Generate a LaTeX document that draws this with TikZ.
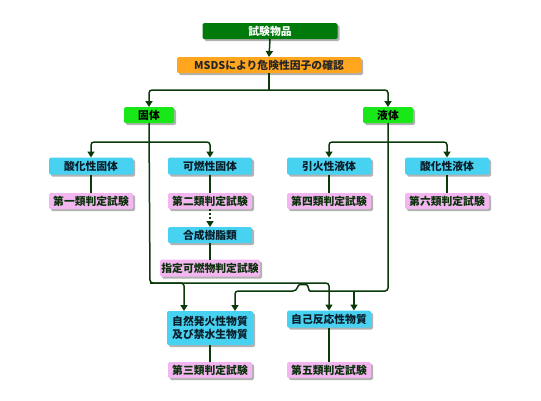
\documentclass[tikz,border=0pt]{standalone}
\usepackage{fontspec}
\newfontfamily\jp{Noto Sans CJK JP}
\usetikzlibrary{arrows.meta,shadows}
\definecolor{lc}{HTML}{0A3A0A}
\definecolor{dgreen}{HTML}{007A0A}
\definecolor{orangebox}{HTML}{FFA51E}
\definecolor{bgreen}{HTML}{18E818}
\definecolor{cyanbox}{HTML}{48D2F2}
\definecolor{pinkbox}{HTML}{F4B6F0}
\definecolor{cyantext}{HTML}{0A1E2A}
\definecolor{pinktext}{HTML}{0A300A}
\begin{document}
\begin{tikzpicture}[x=1pt,y=-1pt,
  box/.style={rounded corners=1.5pt, inner sep=0pt, outer sep=0pt, minimum height=16pt,
    align=center, font=\jp\bfseries\fontsize{10.8}{13}\selectfont,
    drop shadow={shadow xshift=2pt,shadow yshift=-2pt,fill=black!30,opacity=1}},
  topbox/.style={box, fill=dgreen, text=white, minimum width=135pt},
  orbox/.style={box, fill=orangebox, text=black!85, minimum width=184pt},
  grbox/.style={box, fill=bgreen, text=black, minimum width=50pt},
  cybox/.style={box, fill=cyanbox, text=cyantext, minimum width=84pt, minimum height=17pt},
  pkbox/.style={box, fill=pinkbox, text=pinktext, minimum width=84pt},
  conn/.style={draw=lc, line width=1.5pt, rounded corners=3pt},
  arr/.style={conn, -{Triangle[width=7pt,length=6pt]}},
]
\useasboundingbox (0,0) rectangle (541,400);

\node[topbox] (item) at (270,31) {試験物品};
\node[orbox] (msds) at (269,65) {MSDSにより危険性因子の確認};
\node[grbox] (kotai) at (149,115) {固体};
\node[grbox] (ekitai) at (388,115) {液体};

\node[cybox] (sanka1) at (91,166) {酸化性固体};
\node[cybox] (kanen) at (210,166) {可燃性固体};
\node[cybox] (inka) at (329,166) {引火性液体};
\node[cybox] (sanka2) at (447,166) {酸化性液体};

\node[pkbox] (t1) at (91,201) {第一類判定試験};
\node[pkbox] (t2) at (210,201) {第二類判定試験};
\node[pkbox] (t4) at (329,201) {第四類判定試験};
\node[pkbox] (t6) at (447,201) {第六類判定試験};

\node[cybox, minimum height=16pt] (jushi) at (210,235) {合成樹脂類};
\node[pkbox, minimum width=100pt, minimum height=17pt] (shitei) at (210,268) {指定可燃物判定試験};

\node[cybox, minimum width=86pt, minimum height=34pt] (shizen) at (210,328) {自然発火性物質\\及び禁水生物質};
\node[cybox] (jiko) at (329,319) {自己反応性物質};

\node[pkbox] (t3) at (210,370) {第三類判定試験};
\node[pkbox] (t5) at (329,370) {第五類判定試験};

% junctions
\coordinate (j0) at (269,90);
\coordinate (jk) at (150,142);
\coordinate (je) at (388,142);
\coordinate (jk2) at (150,283);
\coordinate (je2) at (388,291);

\draw[arr] (item.south) -- (msds.north);
\draw[conn] (msds.south) -- (j0);
\draw[arr] (j0) -| (kotai.north);
\draw[arr] (j0) -| (ekitai.north);

\draw[arr] (jk) -| (sanka1.north);
\draw[arr] (jk) -| (kanen.north);
\draw[arr] (je) -| (inka.north);
\draw[arr] (je) -| (sanka2.north);

\draw[conn] (sanka1.south) -- (t1.north);
\draw[conn] (kanen.south) -- (t2.north);
\draw[conn] (inka.south) -- (t4.north);
\draw[conn] (sanka2.south) -- (t6.north);
\draw[conn, -{Triangle[width=7pt,length=6pt]}, dash pattern=on 2pt off 2pt] (t2.south) -- (jushi.north);
\draw[conn] (jushi.south) -- (shitei.north);

% solid line to self-reactive
\draw[arr] (kotai.south) -- (jk2) -| (jiko.north);
\draw[arr] (jk2) -| ([xshift=-26pt]shizen.north);

% liquid line with hop
\coordinate (h1) at (313,291);
\coordinate (h2) at (293,291);
\coordinate (shizenR) at ([xshift=25pt]shizen.north);
\draw[conn] (ekitai.south) -- (je2) -- (h1)
  .. controls (308,291) and (309,284.5) .. (303,284.5)
  .. controls (297,284.5) and (298,291) .. (h2);
\draw[arr] (h2) -| (shizenR);
\draw[arr] ([xshift=25pt]jiko.north |- je2) -- ([xshift=25pt]jiko.north);

\draw[conn] (shizen.south) -- (t3.north);
\draw[conn] (jiko.south) -- (t5.north);
\end{tikzpicture}
\end{document}
